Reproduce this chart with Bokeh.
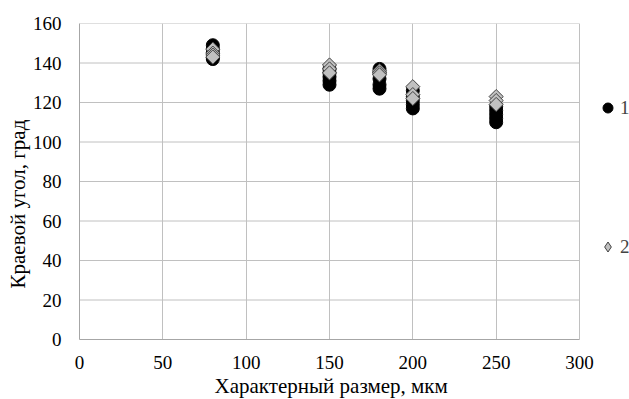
import math
from bokeh.plotting import figure
from bokeh.models import Legend, LegendItem, Range1d, FixedTicker, Title
from bokeh.embed import file_html
from bokeh.resources import INLINE

# Series 1 (circles)
x1 = [80, 80, 80, 80, 80,
      150, 150, 150, 150, 150,
      180, 180, 180, 180, 180,
      200, 200, 200, 200, 200,
      250, 250, 250, 250, 250]
y1 = [149, 147, 145, 143, 142,
      137, 135, 133, 131, 129,
      137, 135, 132, 129, 127,
      126, 123, 121, 119, 117,
      118, 116, 114, 112, 110]

# Series 2 (diamonds)
x2 = [80, 80, 80, 80,
      150, 150, 150,
      180, 180, 180,
      200, 200, 200,
      250, 250, 250]
y2 = [147, 145, 144, 143,
      139, 137, 135,
      136, 135, 134,
      128, 124, 122,
      123, 121, 119]

x_ticks = [0, 50, 100, 150, 200, 250, 300]
y_ticks = [0, 20, 40, 60, 80, 100, 120, 140, 160]
x_label = "Характерный размер, мкм"
y_label = "Краевой угол, град"
series_names = ["1", "2"]

FONT = "Liberation Serif"
GRID = "#c0c0c0"
DIAMOND_FILL = "#c0c0c0"
DIAMOND_LINE = "#404040"

# frame extends to the right edge so the legend can sit beside the data area
p = figure(width=629, height=399, output_backend="svg", toolbar_location=None,
           x_range=Range1d(0, 330), y_range=Range1d(0, 160),
           min_border_left=79, min_border_right=0, min_border_top=23, min_border_bottom=60)
p.outline_line_color = None
p.background_fill_color = "white"
p.border_fill_color = "white"

# horizontal grid lines limited to the x tick span
n = len(y_ticks)
p.segment(x0=[x_ticks[0]] * n, x1=[x_ticks[-1]] * n, y0=y_ticks, y1=y_ticks,
          line_color=GRID, line_width=1)
p.ygrid.visible = False

r1 = p.scatter(x1, y1, marker="circle", size=13, fill_color="black", line_color="black")
# legend swatch glyph (legend swatches ignore marker angle); hidden under r2
r2_leg = p.scatter(x2, y2, marker="diamond", size=10,
                   fill_color=DIAMOND_FILL, line_color=DIAMOND_LINE, line_width=1)
r2 = p.scatter(x2, y2, marker="square", size=10, angle=math.pi / 4,
               fill_color=DIAMOND_FILL, line_color=DIAMOND_LINE, line_width=1)

for ax in (p.xaxis, p.yaxis):
    ax.axis_line_color = "#a6a6a6"
    ax.major_tick_line_color = None
    ax.minor_tick_line_color = None
    ax.major_label_text_font = FONT
    ax.major_label_text_font_size = "19px"
    ax.major_label_text_color = "black"

p.xaxis.bounds = (x_ticks[0], x_ticks[-1])
p.xaxis.ticker = FixedTicker(ticks=x_ticks)
p.yaxis.ticker = FixedTicker(ticks=y_ticks)
p.xaxis.major_label_standoff = 10
p.yaxis.major_label_standoff = 12

# axis titles
p.add_layout(Title(text=x_label, align="left", offset=135, standoff=0,
                   text_font=FONT, text_font_size="21px", text_font_style="normal",
                   text_color="black"), "below")
p.add_layout(Title(text=y_label, align="left", offset=51, standoff=0,
                   text_font=FONT, text_font_size="21px", text_font_style="normal",
                   text_color="black"), "left")

p.xgrid.ticker = FixedTicker(ticks=x_ticks)
p.xgrid.grid_line_color = GRID

legend = Legend(items=[LegendItem(label=series_names[0], renderers=[r1]),
                       LegendItem(label=series_names[1], renderers=[r2_leg])],
                location=(516, 80), orientation="vertical",
                spacing=114, padding=0, margin=0,
                glyph_width=25, glyph_height=25, label_height=20,
                label_standoff=0, border_line_color=None, background_fill_alpha=0,
                label_text_font=FONT, label_text_font_size="19px")
p.add_layout(legend)

open("out.html", "w").write(file_html(p, INLINE))
